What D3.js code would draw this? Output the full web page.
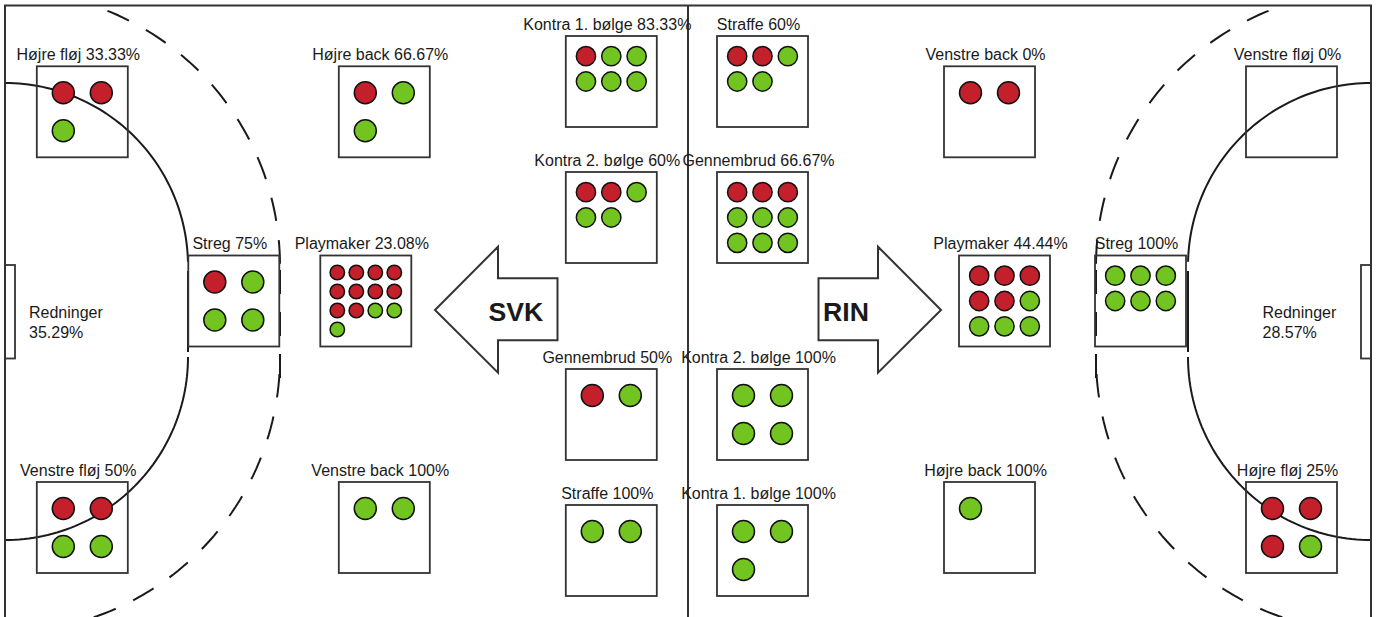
<!DOCTYPE html>
<html><head><meta charset="utf-8">
<script src="https://d3js.org/d3.v7.min.js"></script>
<style>html,body{margin:0;padding:0;background:#fff}svg{display:block}text{font-family:"Liberation Sans",Arial,sans-serif;fill:#1a1a1a}</style>
</head><body><svg id="c" width="1379" height="617"></svg>
<script>
// zone data: label, percentage text, misses (red), goals (green), column and row keys
const zoneNames = ["Højre fløj","Højre back","Streg","Playmaker","Venstre fløj","Venstre back","Kontra 1. bølge","Kontra 2. bølge","Gennembrud","Straffe",
  "Straffe","Gennembrud","Kontra 2. bølge","Kontra 1. bølge","Venstre back","Venstre fløj","Playmaker","Streg","Højre back","Højre fløj"];
const zonePercents = ["33.33%","66.67%","75%","23.08%","50%","100%","83.33%","60%","50%","100%",
  "60%","66.67%","100%","100%","0%","0%","44.44%","100%","100%","25%"];
const zoneMisses = [2,1,1,10,2,0,1,2,1,0, 2,3,0,0,2,0,5,0,0,3];
const zoneGoals  = [1,2,3,3,2,2,5,3,1,2, 3,6,4,3,0,0,4,6,1,1];
const zoneCols = ["L1","L3","L2","L2b","L1","L3","CL","CL","CL","CL","CR","CR","CR","CR","R3","R1","R2b","R2","R3","R1"];
const zoneRows = ["wing1","wing1","mid","mid","wing2","wing2","c1","c2","c3","c4","c1","c2","c3","c4","wing1","wing1","mid","mid","wing2","wing2"];
const saveTeams = ["Redninger","Redninger"];
const savePercents = ["35.29%","28.57%"];
const teamNames = ["SVK","RIN"];

const colKeys = ["L1","L2","L2b","L3","CL","CR","R3","R2b","R2","R1"];
const x = d3.scaleOrdinal(colKeys,[36.8,188.3,320.3,338.8,565.8,717,944,959,1095,1246]);
const rowKeys = ["c1","wing1","c2","mid","c3","wing2","c4"];
const y = d3.scaleOrdinal(rowKeys,[36,66.3,172,255.5,369,482,505]);
const BOX=91, INSET=7.5;
const court = d3.scaleLinear().domain([0,1]).range([5,1371]);
const mirror = v => court(0)+court(1)-v;

const svg = d3.select("#c");
svg.append("defs").append("clipPath").attr("id","ci").append("rect")
  .attr("x",5).attr("y",5).attr("width",1366).attr("height",612);
const ink="#1a1a1a", LW=2;
const pitch = svg.append("g").attr("fill","none").attr("stroke",ink).attr("clip-path","url(#ci)");
function arcs(flip){
  const fx = v => flip ? mirror(v) : v;
  const top=266,bot=357,r1=183,r2=275,x0=court(0);
  const ang=(cx,cy,r,a0,a1)=>{const p=d3.path();const n=60;for(let i=0;i<=n;i++){const a=a0+(a1-a0)*i/n;const px=cx+r*Math.sin(a),py=cy-r*Math.cos(a);i?p.lineTo(fx(px),py):p.moveTo(fx(px),py);}return p.toString();};
  // six-metre line
  pitch.append("path").attr("d",ang(x0,top,r1,0,Math.PI/2*0.985)).attr("stroke-width",LW);
  pitch.append("path").attr("d",ang(x0,bot,r1,Math.PI/2,Math.PI)).attr("stroke-width",LW);
  pitch.append("line").attr("x1",fx(x0+r1)).attr("x2",fx(x0+r1)).attr("y1",271).attr("y2",352).attr("stroke-width",LW);
  // nine-metre line
  pitch.append("path").attr("d",ang(x0,top,r2,0,Math.PI/2)).attr("stroke-width",LW).attr("stroke-dasharray","23.6 19.4").attr("stroke-dashoffset",-19);
  pitch.append("path").attr("d",ang(x0,bot,r2,Math.PI/2,Math.PI)).attr("stroke-width",LW).attr("stroke-dasharray","23.6 19.4").attr("stroke-dashoffset",-17);
  pitch.append("line").attr("x1",fx(x0+r2)).attr("x2",fx(x0+r2)).attr("y1",270).attr("y2",378).attr("stroke-width",LW).attr("stroke-dasharray","24 18");
  // goal
  pitch.append("rect").attr("x",flip?mirror(x0+10):x0).attr("y",265).attr("width",10).attr("height",93.5).attr("stroke","#333").attr("stroke-width",1.8);
}
arcs(false);arcs(true);

const frame = svg.append("g").attr("fill","none").attr("stroke","#333");
frame.append("path").attr("d",`M${court(0)},617V5.5H${court(1)}V617`).attr("stroke-width",2);
frame.append("line").attr("x1",688).attr("x2",688).attr("y1",5).attr("y2",617).attr("stroke-width",2);

// arrows
function arrow(flip,label,tx){
  const fx=v=>flip?mirror(v):v;
  const pts=[[435,310],[498,246.7],[498,278.3],[557.5,278.3],[557.5,340.3],[498,340.3],[498,372.7]].map(p=>[fx(p[0]),p[1]]);
  svg.append("path").attr("d",d3.line()(pts)+"Z").attr("fill","#fff").attr("stroke","#333").attr("stroke-width",2);
  svg.append("text").attr("x",tx).attr("y",320.5).attr("font-size",26.67).attr("font-weight",700).text(label);
}
arrow(false,teamNames[0],488.5);arrow(true,teamNames[1],823);

const zones = zoneNames.map((n,i)=>({n,pct:zonePercents[i],miss:zoneMisses[i],goal:zoneGoals[i],col:zoneCols[i],row:zoneRows[i]}));
const g = svg.selectAll("g.z").data(zones).join("g").attr("class","z")
  .attr("transform",d=>`translate(${x(d.col)},${y(d.row)})`);
g.append("rect").attr("width",BOX).attr("height",BOX).attr("fill","none").attr("stroke","#333").attr("stroke-width",1.8);
g.append("text").attr("x",BOX/2-4).attr("y",-6.3).attr("text-anchor","middle").attr("font-size",16).text(d=>`${d.n} ${d.pct}`);
g.each(function(d){
  const total=d.miss+d.goal;
  const cols = total>9?4:total>4?3:2;
  const band=d3.scaleBand().domain(d3.range(cols)).range([INSET,BOX-INSET]);
  const marks=d3.range(total).map(i=>({i,red:i<d.miss}));
  d3.select(this).selectAll("circle").data(marks).join("circle")
    .attr("cx",m=>band(m.i%cols)+band.bandwidth()/2)
    .attr("cy",m=>band(Math.floor(m.i/cols))+band.bandwidth()/2)
    .attr("r",Math.min(11,band.bandwidth()*0.38))
    .attr("fill",m=>m.red?"#c4202c":"#72c520")
    .attr("stroke","#111").attr("stroke-width",1.5);
});

// saves
[[29,0],[1262.5,1]].forEach(([tx,i])=>{
  svg.append("text").attr("x",tx).attr("y",317.7).attr("font-size",16).text(saveTeams[i]);
  svg.append("text").attr("x",tx).attr("y",337.7).attr("font-size",16).text(savePercents[i]);
});
</script></body></html>
